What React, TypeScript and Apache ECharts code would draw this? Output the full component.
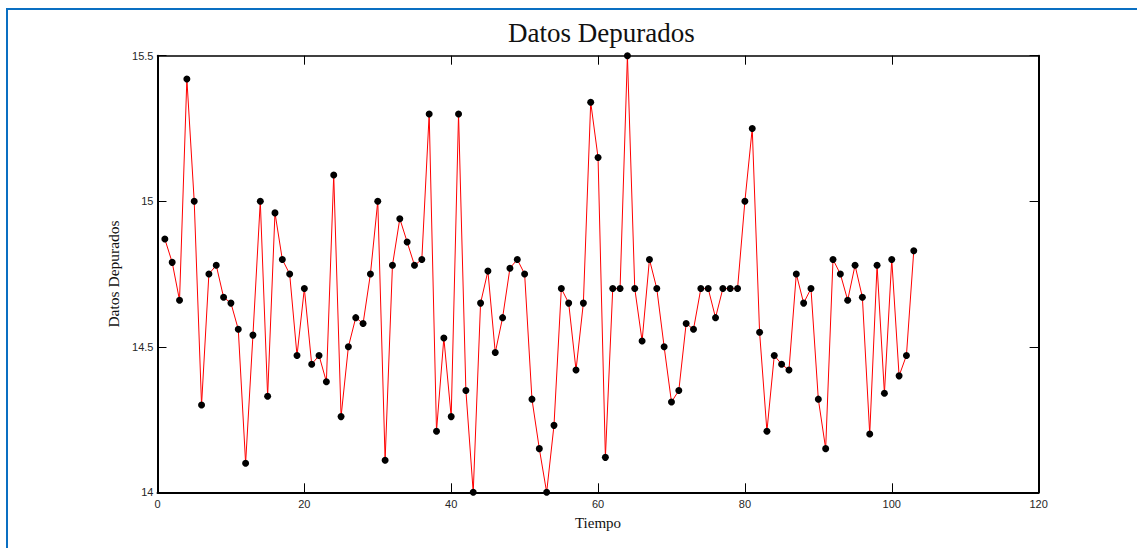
import React, { useEffect, useRef } from "react";
import * as echarts from "echarts";

// Observation index (Tiempo) and the cleaned measurement at each step
const tiempo: number[] = Array.from({ length: 103 }, (_, i) => i + 1);

const datosDepurados: number[] = [
  14.87, 14.79, 14.66, 15.42, 15.0, 14.3, 14.75, 14.78, 14.67, 14.65,
  14.56, 14.1, 14.54, 15.0, 14.33, 14.96, 14.8, 14.75, 14.47, 14.7,
  14.44, 14.47, 14.38, 15.09, 14.26, 14.5, 14.6, 14.58, 14.75, 15.0,
  14.11, 14.78, 14.94, 14.86, 14.78, 14.8, 15.3, 14.21, 14.53, 14.26,
  15.3, 14.35, 14.0, 14.65, 14.76, 14.48, 14.6, 14.77, 14.8, 14.75,
  14.32, 14.15, 14.0, 14.23, 14.7, 14.65, 14.42, 14.65, 15.34, 15.15,
  14.12, 14.7, 14.7, 15.5, 14.7, 14.52, 14.8, 14.7, 14.5, 14.31,
  14.35, 14.58, 14.56, 14.7, 14.7, 14.6, 14.7, 14.7, 14.7, 15.0,
  15.25, 14.55, 14.21, 14.47, 14.44, 14.42, 14.75, 14.65, 14.7, 14.32,
  14.15, 14.8, 14.75, 14.66, 14.78, 14.67, 14.2, 14.78, 14.34, 14.8,
  14.4, 14.47, 14.83,
];

const xTicks = { min: 0, max: 120, interval: 20 };
const yTicks = { min: 14, max: 15.5, interval: 0.5 };

const W = 1137;
const H = 548;

export default function App() {
  const ref = useRef<HTMLDivElement>(null);

  useEffect(() => {
    if (!ref.current) return;
    const chart = echarts.init(ref.current, undefined, { renderer: "svg" });

    const labelStyle = {
      fontFamily: "Arial",
      fontSize: 11,
      color: "#262626",
    };
    const serif = "Liberation Serif";
    const tickLine = { lineStyle: { color: "#000", width: 1 } };

    chart.setOption({
      animation: false,
      backgroundColor: "#fff",
      title: {
        text: "Datos Depurados",
        left: 503,
        top: 14,
        textStyle: {
          fontFamily: serif,
          fontWeight: "normal",
          fontSize: 27,
          color: "#111",
        },
      },
      graphic: [
        {
          type: "rect",
          shape: { x: 6, y: 8, width: W - 6, height: 2 },
          style: { fill: "#0a6fc2" },
        },
        {
          type: "rect",
          shape: { x: 6, y: 8, width: 2, height: H - 8 },
          style: { fill: "#0a6fc2" },
        },
      ],
      grid: {
        left: 157.5,
        right: W - 1038.6,
        top: 55.7,
        bottom: H - 492.3,
        containLabel: false,
      },
      xAxis: [
        {
          type: "value",
          ...xTicks,
          name: "Tiempo",
          nameLocation: "middle",
          nameGap: 23,
          nameTextStyle: { fontFamily: serif, fontSize: 15, color: "#111" },
          axisLine: { show: true, onZero: false, lineStyle: { color: "#000", width: 2 } },
          axisTick: { show: true, inside: true, length: 9, ...tickLine },
          axisLabel: { ...labelStyle, margin: 6 },
          splitLine: { show: false },
        },
        {
          type: "value",
          ...xTicks,
          position: "top",
          axisLine: { show: true, onZero: false, lineStyle: { color: "#000", width: 1.5 } },
          axisTick: { show: true, inside: true, length: 9, ...tickLine },
          axisLabel: { show: false },
          splitLine: { show: false },
        },
      ],
      yAxis: [
        {
          type: "value",
          ...yTicks,
          name: "Datos Depurados",
          nameLocation: "middle",
          nameGap: 35,
          nameRotate: 90,
          nameTextStyle: { fontFamily: serif, fontSize: 15.5, color: "#111" },
          axisLine: { show: true, onZero: false, lineStyle: { color: "#000", width: 2 } },
          axisTick: { show: true, inside: true, length: 9, ...tickLine },
          axisLabel: { ...labelStyle, margin: 4 },
          splitLine: { show: false },
        },
        {
          type: "value",
          ...yTicks,
          position: "right",
          axisLine: { show: true, onZero: false, lineStyle: { color: "#000", width: 2 } },
          axisTick: { show: true, inside: true, length: 9, ...tickLine },
          axisLabel: { show: false },
          splitLine: { show: false },
        },
      ],
      series: [
        {
          type: "line",
          xAxisIndex: 0,
          yAxisIndex: 0,
          data: tiempo.map((t, i) => [t, datosDepurados[i]]),
          clip: false,
          symbol: "circle",
          symbolSize: 7,
          showAllSymbol: true,
          lineStyle: { color: "#ff0000", width: 1 },
          itemStyle: { color: "#000", borderWidth: 0 },
          z: 3,
        },
      ],
    });

    return () => chart.dispose();
  }, []);

  return (
    <div
      ref={ref}
      style={{ position: "absolute", left: 0, top: 0, width: W, height: H }}
    />
  );
}
